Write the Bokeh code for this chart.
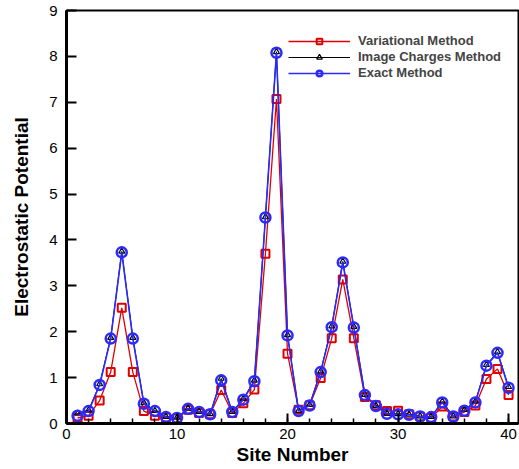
from bokeh.plotting import figure
from bokeh.models import Range1d, Legend, LegendItem, SingleIntervalTicker
from bokeh.embed import file_html
from bokeh.resources import INLINE

sites = list(range(1, 41))
variational = [0.12, 0.17, 0.50, 1.12, 2.52, 1.12, 0.27, 0.17, 0.13, 0.11,
               0.30, 0.23, 0.20, 0.73, 0.23, 0.44, 0.74, 3.70, 7.07, 1.52,
               0.30, 0.40, 0.99, 1.86, 3.14, 1.86, 0.58, 0.40, 0.27, 0.28,
               0.20, 0.15, 0.12, 0.37, 0.15, 0.25, 0.39, 0.97, 1.19, 0.62]
image_charges = [0.22, 0.29, 0.86, 1.87, 3.75, 1.87, 0.45, 0.28, 0.15, 0.13,
                 0.33, 0.26, 0.21, 0.98, 0.26, 0.54, 0.94, 4.50, 8.10, 1.93,
                 0.28, 0.41, 1.14, 2.12, 3.53, 2.11, 0.63, 0.39, 0.22, 0.21,
                 0.20, 0.16, 0.15, 0.48, 0.16, 0.30, 0.48, 1.28, 1.56, 0.80]
exact = [0.17, 0.27, 0.84, 1.85, 3.73, 1.85, 0.43, 0.27, 0.14, 0.12,
         0.32, 0.25, 0.20, 0.94, 0.25, 0.52, 0.92, 4.49, 8.08, 1.92,
         0.27, 0.39, 1.12, 2.10, 3.51, 2.09, 0.62, 0.38, 0.21, 0.20,
         0.19, 0.15, 0.14, 0.46, 0.15, 0.28, 0.46, 1.26, 1.54, 0.78]
series_names = ["Variational Method", "Image Charges Method", "Exact Method"]

p = figure(width=519, height=469, output_backend="svg", toolbar_location=None,
           x_range=Range1d(0, 40.9), y_range=Range1d(0, 9),
           min_border_left=66, min_border_right=1, min_border_top=10, min_border_bottom=46)
p.grid.visible = False
p.outline_line_color = "black"
p.outline_line_width = 2
p.background_fill_color = "white"

r_line = p.line(sites, variational, line_color="#e00000", line_width=1.3)
r_sq = p.scatter(sites, variational, marker="square", size=8, line_color="#e00000",
                 line_width=2, fill_color="white", fill_alpha=0.0)
k_line = p.line(sites, image_charges, line_color="black", line_width=1)
k_tri = p.scatter(sites, image_charges, marker="triangle", size=6, line_color="black",
                  line_width=1.2, fill_color=None)
b_line = p.line(sites, exact, line_color="#2a2aff", line_width=1.6)
b_circ = p.scatter(sites, exact, marker="circle", size=10, line_color="#2a2aff",
                   line_width=2.5, fill_color=None)

legend = Legend(items=[
    LegendItem(label=series_names[0], renderers=[r_line, r_sq]),
    LegendItem(label=series_names[1], renderers=[k_line, k_tri]),
    LegendItem(label=series_names[2], renderers=[b_line, b_circ]),
], location=(222, 343))
legend.border_line_color = None
legend.background_fill_alpha = 0
legend.glyph_width = 62
legend.glyph_height = 14
legend.label_height = 14
legend.spacing = 1
legend.padding = 2
legend.label_standoff = 8
legend.label_text_font = "Liberation Sans"
legend.label_text_font_style = "bold"
legend.label_text_font_size = "13px"
p.add_layout(legend)

p.xaxis.ticker = SingleIntervalTicker(interval=10, num_minor_ticks=5)
p.yaxis.ticker = SingleIntervalTicker(interval=1, num_minor_ticks=0)
for ax in (p.xaxis[0], p.yaxis[0]):
    ax.axis_line_width = 3
    ax.axis_line_color = "black"
    ax.major_tick_line_width = 2
    ax.major_tick_line_color = "black"
    ax.minor_tick_line_width = 1.5
    ax.major_label_text_font = "Liberation Sans"
    ax.major_label_text_font_size = "15px"
    ax.major_label_text_color = "black"
    ax.axis_label_text_font = "Liberation Sans"
    ax.axis_label_text_font_style = "bold"
    ax.axis_label_text_font_size = "19px"
    ax.axis_label_text_color = "black"

p.xaxis.major_tick_in = 10
p.xaxis.major_tick_out = 0
p.xaxis.minor_tick_in = 5
p.xaxis.minor_tick_out = 0
p.xaxis.major_label_standoff = 5
p.xaxis.axis_label = "Site Number"
p.xaxis.axis_label_standoff = 2

p.yaxis.major_tick_in = 10
p.yaxis.major_tick_out = 0
p.yaxis.minor_tick_line_color = None
p.yaxis.major_label_standoff = 9
p.yaxis.axis_label = "Electrostatic Potential"
p.yaxis.axis_label_standoff = 14

open("out.html", "w").write(file_html(p, INLINE))
